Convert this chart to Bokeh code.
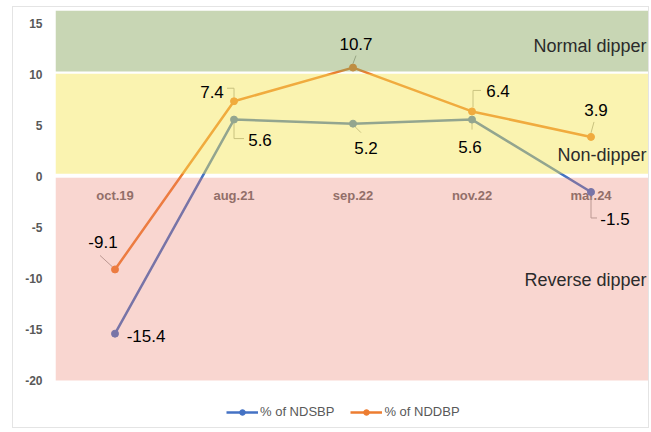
from bokeh.plotting import figure
from bokeh.models import (FactorRange, Range1d, BoxAnnotation, Label, Legend,
                          LegendItem, ColumnDataSource, FixedTicker)
from bokeh.embed import file_html
from bokeh.resources import INLINE

# ---- data ----
categories = ["oct.19", "aug.21", "sep.22", "nov.22", "mar.24"]
ndsbp = [-15.4, 5.6, 5.2, 5.6, -1.5]
nddbp = [-9.1, 7.4, 10.7, 6.4, 3.9]
series_names = ["% of NDSBP", "% of NDDBP"]
y_ticks = [-20, -15, -10, -5, 0, 5, 10, 15]
zone_names = ["Normal dipper", "Non-dipper", "Reverse dipper"]

# ---- styles / layout ----
BLUE = "#4472C4"
ORANGE = "#ED7D31"
FONT = "Liberation Sans"
PX_X = 119.0   # px per category
PX_Y = 10.19   # px per y unit

# label offsets (px, screen: +y down)
lab_off_s = [(31, 2), (26, 20), (13, 24), (-2, 27), (24, 27)]
lab_off_d = [(-12, -27), (-22, -9), (3, -24), (26, -20), (5, -27)]
# leader lines: (series, index, dx0, dy0, dx1, dy1) in px
leaders = [
    ("d", 0, -15, -14, -3, -3),
    ("d", 1, -7, -13, 0, -13), ("d", 1, 0, -13, 0, -4),
    ("s", 1, 0, 4, 0, 19), ("s", 1, 0, 19, 10, 19),
    ("d", 2, 0, -4, 3, -12),
    ("s", 2, 2, 3, 8, 9),
    ("d", 3, 1, -4, 1, -21), ("d", 3, 1, -21, 9, -21),
    ("s", 3, 0, 3, 0, 10),
    ("d", 4, 0, -4, 3, -15),
    ("s", 4, 0, 5, 0, 26), ("s", 4, 0, 26, 6, 26),
]

# frame reaches the bottom of the chart box so the legend can sit inside it
p = figure(x_range=FactorRange(*categories), y_range=Range1d(-24.8, 16.3),
           width=637, height=422, output_backend="svg", toolbar_location=None,
           x_axis_location=None, min_border_left=42, min_border_right=0,
           min_border_top=3, min_border_bottom=0)
p.margin = (6, 0, 0, 12)
p.styles = {"border": "1px solid #e4e4e4"}
p.outline_line_color = None
p.xgrid.visible = False
p.ygrid.visible = False
p.background_fill_color = "white"

ax = p.yaxis[0]
ax.ticker = FixedTicker(ticks=y_ticks)
ax.major_label_overrides = {t: str(t) for t in y_ticks}
ax.axis_line_color = None
ax.major_tick_line_color = None
ax.minor_tick_line_color = None
ax.major_tick_out = 0
ax.major_label_standoff = 13
ax.major_label_text_font = FONT
ax.major_label_text_font_style = "bold"
ax.major_label_text_font_size = "12px"
ax.major_label_text_color = "#595959"

src = ColumnDataSource(dict(cat=categories, s=ndsbp, d=nddbp,
                            zero=[0] * len(categories)))

# category labels along the zero line (under the tint)
p.text(x="cat", y="zero", text="cat", source=src, text_align="center",
       text_baseline="middle", y_offset=19, text_font_size="13px",
       text_font_style="bold", text_color="#6a6a6a",
       text_font={"value": FONT})

# leader lines
vals = {"s": ndsbp, "d": nddbp}
lx0, ly0, lx1, ly1 = [], [], [], []
for ser, i, dx0, dy0, dx1, dy1 in leaders:
    v = vals[ser][i]
    lx0.append(i + 0.5 + dx0 / PX_X)
    ly0.append(v - dy0 / PX_Y)
    lx1.append(i + 0.5 + dx1 / PX_X)
    ly1.append(v - dy1 / PX_Y)
p.segment(x0=lx0, y0=ly0, x1=lx1, y1=ly1, line_color="#a6a6a6", line_width=1)

lb = p.line("cat", "s", source=src, line_color=BLUE, line_width=2.5)
cb = p.scatter("cat", "s", source=src, size=7, color=BLUE)
lo = p.line("cat", "d", source=src, line_color=ORANGE, line_width=2.5)
co = p.scatter("cat", "d", source=src, size=7, color=ORANGE)

# zone bands, tinting the lines below them
p.add_layout(BoxAnnotation(bottom=10.32, fill_color="#85A459", fill_alpha=0.45,
                           line_color=None))
p.add_layout(BoxAnnotation(bottom=0.28, top=10.1, fill_color="#F4E550",
                           fill_alpha=0.45, line_color=None))
p.add_layout(BoxAnnotation(bottom=-20, top=-0.1, fill_color="#EB7B67",
                           fill_alpha=0.31, line_color=None))

# data labels
for key, offs in (("s", lab_off_s), ("d", lab_off_d)):
    lsrc = ColumnDataSource(dict(cat=categories, v=vals[key],
                                 t=[f"{x:.1f}" for x in vals[key]],
                                 xo=[o[0] for o in offs],
                                 yo=[o[1] for o in offs]))
    p.text(x="cat", y="v", text="t", source=lsrc, x_offset="xo", y_offset="yo",
           text_align="center", text_baseline="middle", text_font_size="17px",
           text_color="black", text_font={"value": FONT}, level="overlay")

# zone names
zone_y = [12.78, 2.08, -10.1]
for name, yv in zip(zone_names, zone_y):
    p.add_layout(Label(x=5, y=yv, x_offset=-4, text=name, text_align="right",
                       text_baseline="middle", text_font_size="18px",
                       text_font=FONT, text_color="#2b2b2b", level="overlay"))

legend = Legend(items=[LegendItem(label=series_names[0], renderers=[lb, cb]),
                       LegendItem(label=series_names[1], renderers=[lo, co])],
                orientation="horizontal", location=(171, 10),
                border_line_color=None, background_fill_alpha=0,
                label_text_font_size="13px", label_text_color="#595959",
                label_text_font=FONT, glyph_width=32, glyph_height=14,
                label_standoff=2, spacing=16, padding=0, margin=0)
p.add_layout(legend)

open("out.html", "w").write(file_html(p, INLINE))
